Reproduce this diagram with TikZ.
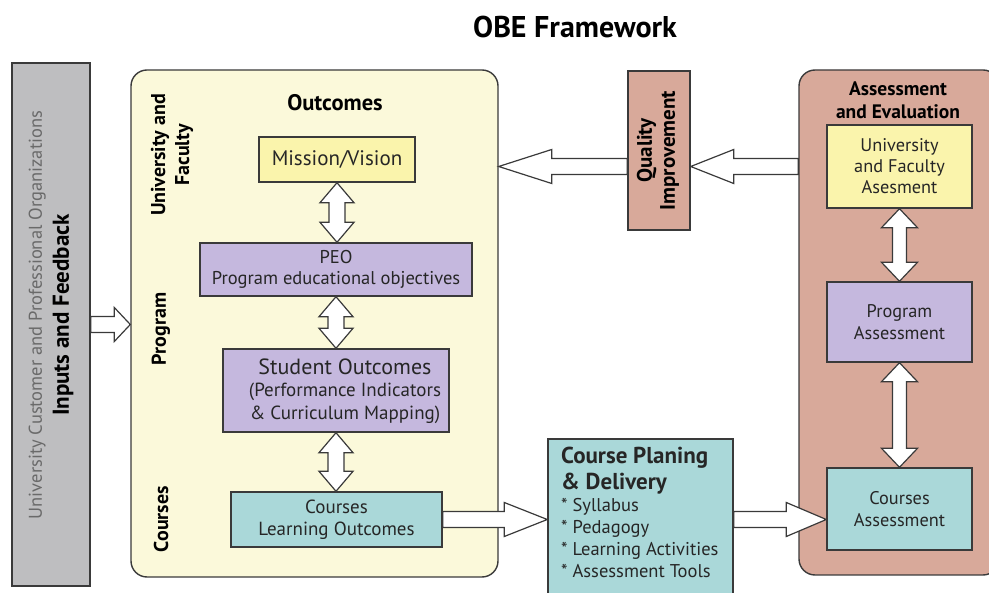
\documentclass[tikz,border=0pt]{standalone}
\usepackage{fontspec}
\setmainfont{PT Sans}
\usetikzlibrary{calc}
\definecolor{edge}{HTML}{3A3A3A}
\definecolor{graybox}{HTML}{BEBEC0}
\definecolor{graytext}{HTML}{6A6A6A}
\definecolor{paleyellow}{HTML}{FBF9DA}
\definecolor{boxyellow}{HTML}{FAF4AC}
\definecolor{lavender}{HTML}{C5B8DE}
\definecolor{teal}{HTML}{AAD8D9}
\definecolor{salmon}{HTML}{D8A99A}
\newcommand\fsz[2]{\fontsize{#1}{#2}\selectfont}
% right-pointing hollow block arrow: start, end, head length
\newcommand\blockR[3]{%
  \draw[blockarrow] let \p1=(#1), \p2=(#2) in
    (\x1,\y1+8pt) -- (\x2-#3,\y1+8pt) -- (\x2-#3,\y1+17pt) -- (\x2,\y1)
    -- (\x2-#3,\y1-17pt) -- (\x2-#3,\y1-8pt) -- (\x1,\y1-8pt) -- cycle;}
% left-pointing hollow block arrow
\newcommand\blockL[3]{%
  \draw[blockarrow] let \p1=(#1), \p2=(#2) in
    (\x1,\y1+8pt) -- (\x2+#3,\y1+8pt) -- (\x2+#3,\y1+17pt) -- (\x2,\y1)
    -- (\x2+#3,\y1-17pt) -- (\x2+#3,\y1-8pt) -- (\x1,\y1-8pt) -- cycle;}
% vertical double-headed hollow arrow: top, bottom, shaft half, head half, head length
\newcommand\blockUD[5]{%
  \draw[blockarrow] let \p1=(#1), \p2=(#2) in
    (\x1,\y1) -- (\x1+#4,\y1-#5) -- (\x1+#3,\y1-#5) -- (\x1+#3,\y2+#5)
    -- (\x1+#4,\y2+#5) -- (\x1,\y2) -- (\x1-#4,\y2+#5) -- (\x1-#3,\y2+#5)
    -- (\x1-#3,\y1-#5) -- (\x1-#4,\y1-#5) -- cycle;}
\begin{document}
\begin{tikzpicture}[x=1pt,y=-1pt,
  blockarrow/.style={draw=edge,fill=white,line width=1.2pt,line join=miter},
  boxstyle/.style={draw=edge,line width=1.4pt,inner sep=0pt,align=center,text=black!85},
  bigframe/.style={draw=edge,line width=1.4pt,rounded corners=16pt},
  sidelabel/.style={rotate=90,align=center,font=\fsz{20}{24}\bfseries,inner sep=0pt}]
\useasboundingbox (0,0) rectangle (989,593);

% title
\node[font=\fsz{30}{32}\bfseries] (title) at (575,27) {OBE Framework};

% left gray box
\node[boxstyle,fill=graybox,minimum width=78pt,minimum height=523pt] (gray) at (51,324.5) {};
\node[rotate=90,align=center,inner sep=0pt,font=\fsz{18.5}{27}] (graytxt) at (51,315)
  {{\color{graytext}University Customer and Professional Organizations}\\
   {\fsz{23}{27}\bfseries Inputs and Feedback}};

% yellow outcomes frame
\node[bigframe,fill=paleyellow,minimum width=367pt,minimum height=507pt,inner sep=0pt] (outc) at (314.5,323.5) {};
\node[font=\fsz{22.5}{24}\bfseries] (outlbl) at (335,103) {Outcomes};
\node[sidelabel] (lufac) at (172,155) {University and\\Faculty};
\node[sidelabel] (lprog) at (161,329) {Program};
\node[sidelabel] (lcour) at (161,519) {Courses};

\node[boxstyle,fill=boxyellow,minimum width=156pt,minimum height=45pt,font=\fsz{21}{24}] (mission) at (337,159.5) {Mission/Vision};
\node[boxstyle,fill=lavender,minimum width=272pt,minimum height=53pt,font=\fsz{18.5}{21}] (peo) at (336,269.5) {PEO\\Program educational objectives};
\node[boxstyle,fill=lavender,minimum width=226pt,minimum height=83pt] (so) at (336,390.5) {};
\node[align=center,inner sep=0pt,text=black!85,font=\fsz{19}{22.5}] (sotxt) at (345,391)
  {{\fsz{22}{24}Student Outcomes}\\(Performance Indicators\\\& Curriculum Mapping)};
\node[boxstyle,fill=teal,minimum width=211pt,minimum height=55pt,font=\fsz{19}{22}] (clo) at (336.5,519.5) {Courses\\Learning Outcomes};

% quality improvement
\node[boxstyle,fill=salmon,minimum width=62pt,minimum height=159pt] (qi) at (659,150.5) {};
\node[sidelabel,font=\fsz{21}{23}\bfseries] (qitxt) at (658,150.5) {Quality\\Improvement};

% assessment frame
\node[bigframe,fill=salmon,minimum width=200pt,minimum height=505pt,inner sep=0pt] (ae) at (899,322.5) {};
\node[align=center,font=\fsz{19.5}{23}\bfseries,inner sep=0pt] (aelbl) at (898,100) {Assessment\\and Evaluation};
\node[boxstyle,fill=boxyellow,minimum width=145pt,minimum height=83pt,font=\fsz{18.3}{21}] (ufa) at (899.5,166.5) {University\\and Faculty\\Asesment};
\node[boxstyle,fill=lavender,minimum width=145pt,minimum height=80pt,font=\fsz{18.3}{22}] (pa) at (899.5,322) {Program\\Assessment};
\node[boxstyle,fill=teal,minimum width=145pt,minimum height=82pt,font=\fsz{18.3}{22}] (ca) at (899.5,509) {Courses\\Assessment};

% course planning
\node[boxstyle,fill=teal,minimum width=185pt,minimum height=161pt] (cpd) at (640.5,519.5) {};
\node[anchor=north west,align=left,inner sep=0pt,text=black!85,font=\fsz{18.5}{22}] (cpdtxt) at (561,447)
  {{\fsz{23}{27}\bfseries Course Planing}\\[4pt]{\fsz{23}{27}\bfseries \& Delivery}\\
   * Syllabus\\* Pedagogy\\* Learning Activities\\* Assessment Tools};

% connectors
\blockR{gray.east}{outc.west}{16pt}
\blockUD{mission.south}{peo.north}{8pt}{17pt}{20pt}
\blockUD{peo.south}{so.north}{8pt}{17pt}{20pt}
\blockUD{so.south}{clo.north}{8pt}{17pt}{20pt}
\blockR{clo.east}{cpd.west}{43pt}
\blockR{cpd.east}{ca.west}{40pt}
\coordinate (aeout) at (ae.west |- ufa.west);
\coordinate (qiout) at (qi.west |- ufa.west);
\blockL{aeout}{qi.east}{43pt}
\blockL{qiout}{outc.east}{53pt}
\blockUD{ufa.south}{pa.north}{7pt}{18pt}{19pt}
\blockUD{pa.south}{ca.north}{7pt}{18pt}{19pt}
\end{tikzpicture}
\end{document}
